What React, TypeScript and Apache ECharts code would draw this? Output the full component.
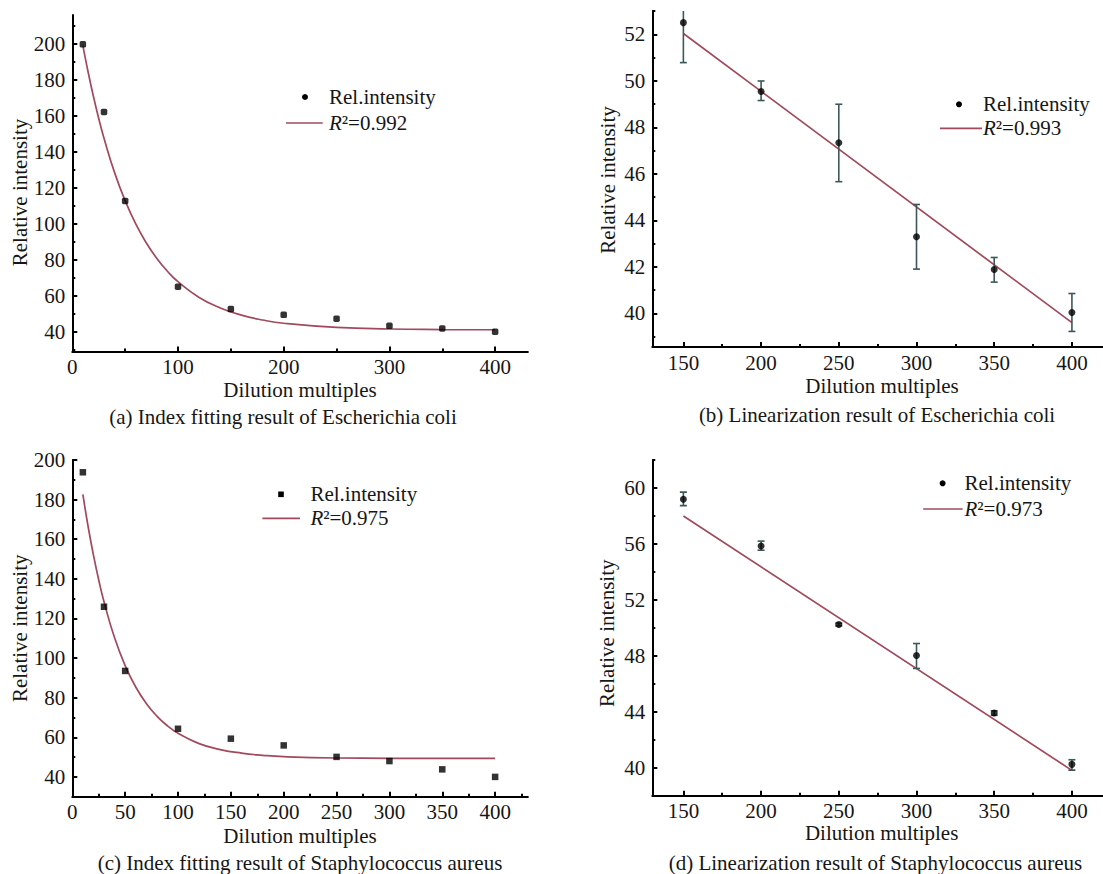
import React, { useEffect, useRef } from "react";
import * as echarts from "echarts";

// ---------- data ----------
const EXP_DILUTIONS = [10, 30, 50, 100, 150, 200, 250, 300, 350, 400];
const ECOLI_INTENSITY = [199.7, 162.1, 112.7, 65.0, 52.6, 49.4, 47.2, 43.3, 41.8, 40.0];
const SAUREUS_INTENSITY = [193.8, 125.9, 93.5, 64.3, 59.3, 55.9, 50.1, 48.0, 43.8, 40.0];

const FIT_DILUTIONS = [10, 15, 20, 25, 30, 40, 50, 60, 70, 80, 90, 100, 120, 140, 160, 180, 200, 250, 300, 350, 400];
const ECOLI_FIT = [199, 184.2, 170.7, 158.5, 147.5, 128.4, 112.8, 99.9, 89.4, 80.7, 73.6, 67.8, 59.0, 53.2, 49.2, 46.5, 44.7, 42.4, 41.5, 41.2, 41.1];
const SAUREUS_FIT = [182.6, 166.3, 152.0, 139.4, 128.4, 110.2, 96.2, 85.4, 77.1, 70.7, 65.8, 62.0, 56.8, 53.8, 52.0, 50.9, 50.2, 49.55, 49.4, 49.3, 49.3];

const LIN_DILUTIONS = [150, 200, 250, 300, 350, 400];
const ECOLI_LIN = [52.5, 49.54, 47.33, 43.29, 41.88, 40.03];
const ECOLI_LIN_LOW = [50.78, 49.15, 45.66, 41.9, 41.34, 39.22];
const ECOLI_LIN_HIGH = [54.22, 49.99, 48.99, 44.68, 42.4, 40.85];
const SAUREUS_LIN = [59.19, 55.85, 50.24, 48.02, 43.91, 40.24];
const SAUREUS_LIN_LOW = [58.74, 55.55, 50.14, 47.1, 43.75, 39.83];
const SAUREUS_LIN_HIGH = [59.7, 56.2, 50.34, 48.88, 44.07, 40.57];

const LIN_FIT_DILUTIONS = [150, 400];
const ECOLI_LIN_FIT = [52.03, 39.6];
const SAUREUS_LIN_FIT = [58.0, 39.81];

const R2_LABELS = ["0.992", "0.993", "0.975", "0.973"];
const CAPTIONS = [
  "(a) Index fitting result of Escherichia coli",
  "(b) Linearization result of Escherichia coli",
  "(c) Index fitting result of Staphylococcus aureus",
  "(d) Linearization result of Staphylococcus aureus",
];
const X_NAME = "Dilution multiples";
const Y_NAME = "Relative intensity";
const POINT_NAME = "Rel.intensity";

// tick label / tick position lists
const A_X_LABELS = [0, 100, 200, 300, 400];
const A_X_MINOR = [50, 150, 250, 350];
const A_Y_LABELS = [40, 60, 80, 100, 120, 140, 160, 180, 200];
const A_Y_MINOR = [30, 50, 70, 90, 110, 130, 150, 170, 190, 210];
const B_X_LABELS = [150, 200, 250, 300, 350, 400];
const B_X_MINOR = [175, 225, 275, 325, 375];
const B_Y_LABELS = [40, 42, 44, 46, 48, 50, 52];
const B_Y_MINOR = [39, 41, 43, 45, 47, 49, 51, 53];
const C_X_LABELS = [0, 50, 100, 150, 200, 250, 300, 350, 400];
const C_X_MINOR = [25, 75, 125, 175, 225, 275, 325, 375, 425];
const C_Y_LABELS = [40, 60, 80, 100, 120, 140, 160, 180, 200];
const C_Y_MINOR = [50, 70, 90, 110, 130, 150, 170, 190];
const D_Y_LABELS = [40, 44, 48, 52, 56, 60];
const D_Y_MINOR = [42, 46, 50, 54, 58, 62];

// ---------- styling ----------
const FONT = "'Liberation Serif', 'DejaVu Serif', serif";
const FS = 21;
const LH = 19;
const TXT = "#161616";
const FIT_COLOR = "#a04a5c";
const ERR_COLOR = "#3c5858";

type Panel = {
  grid: { left: number; top: number; width: number; height: number };
  x: { min: number; max: number; labels: number[]; minor: number[] };
  y: { min: number; max: number; labels: number[]; minor: number[] };
  pts: number[][];
  fit: number[][];
  err?: number[][];
  symbol: string;
  smooth: boolean;
};

const zip = (xs: number[], ys: number[]) => xs.map((x, i) => [x, ys[i]]);

const panels: Panel[] = [
  {
    grid: { left: 72.3, top: 15, width: 455.6, height: 336.5 },
    x: { min: 0, max: 431, labels: A_X_LABELS, minor: A_X_MINOR },
    y: { min: 29, max: 216, labels: A_Y_LABELS, minor: A_Y_MINOR },
    pts: zip(EXP_DILUTIONS, ECOLI_INTENSITY),
    fit: zip(FIT_DILUTIONS, ECOLI_FIT),
    symbol: "roundRect",
    smooth: true,
  },
  {
    grid: { left: 652.3, top: 11, width: 456.75, height: 336 },
    x: { min: 130, max: 420, labels: B_X_LABELS, minor: B_X_MINOR },
    y: { min: 38.55, max: 53, labels: B_Y_LABELS, minor: B_Y_MINOR },
    pts: zip(LIN_DILUTIONS, ECOLI_LIN),
    fit: zip(LIN_FIT_DILUTIONS, ECOLI_LIN_FIT),
    err: LIN_DILUTIONS.map((x, i) => [x, ECOLI_LIN_LOW[i], ECOLI_LIN_HIGH[i]]),
    symbol: "circle",
    smooth: false,
  },
  {
    grid: { left: 72.3, top: 460, width: 455.6, height: 336.7 },
    x: { min: 0, max: 431, labels: C_X_LABELS, minor: C_X_MINOR },
    y: { min: 30, max: 200, labels: C_Y_LABELS, minor: C_Y_MINOR },
    pts: zip(EXP_DILUTIONS, SAUREUS_INTENSITY),
    fit: zip(FIT_DILUTIONS, SAUREUS_FIT),
    symbol: "rect",
    smooth: true,
  },
  {
    grid: { left: 652.3, top: 460, width: 456.75, height: 335.7 },
    x: { min: 130, max: 420, labels: B_X_LABELS, minor: B_X_MINOR },
    y: { min: 38, max: 62, labels: D_Y_LABELS, minor: D_Y_MINOR },
    pts: zip(LIN_DILUTIONS, SAUREUS_LIN),
    fit: zip(LIN_FIT_DILUTIONS, SAUREUS_LIN_FIT),
    err: LIN_DILUTIONS.map((x, i) => [x, SAUREUS_LIN_LOW[i], SAUREUS_LIN_HIGH[i]]),
    symbol: "circle",
    smooth: false,
  },
];

// graphic positions for texts
const LAYOUT = [
  { xName: [300, 390], yName: [20, 192.5], caption: [283, 416.5], marker: [305, 97], text: 329, line: [286, 322.7, 123], r2y: 122.5 },
  { xName: [882, 386], yName: [607.5, 180], caption: [877, 415], marker: [959, 104.3], text: 983, line: [940, 982, 128.3], r2y: 128.3 },
  { xName: [300, 835.5], yName: [19.5, 628.3], caption: [300, 863.3], marker: [281, 494.3], text: 310.4, line: [262.4, 300, 518.3], r2y: 518.3 },
  { xName: [881.6, 833], yName: [607.3, 633.3], caption: [875.4, 863.3], marker: [942.6, 483.3], text: 964.5, line: [923.2, 962.7, 509], r2y: 509 },
];

function axisPair(kind: "x" | "y", gi: number, a: { min: number; max: number; labels: number[]; minor: number[] }) {
  const base = {
    type: "value",
    gridIndex: gi,
    min: a.min,
    max: a.max,
    position: kind === "x" ? "bottom" : "left",
    splitLine: { show: false },
  };
  const main = {
    ...base,
    axisLine: { show: true, onZero: false, lineStyle: { color: "#000", width: 2 } },
    axisTick: { show: true, inside: true, length: 5, customValues: a.labels, lineStyle: { color: "#000", width: 2 } },
    axisLabel: {
      show: true,
      customValues: a.labels,
      margin: kind === "x" ? 6 : 7,
      color: TXT,
      fontSize: FS,
      lineHeight: LH,
      fontFamily: FONT,
    },
  };
  const minor = {
    ...base,
    axisLine: { show: false, onZero: false },
    axisTick: { show: true, inside: true, length: 3, customValues: a.minor, lineStyle: { color: "#000", width: 2 } },
    axisLabel: { show: false },
  };
  return [main, minor];
}

function buildOption() {
  const grids: any[] = [];
  const xAxis: any[] = [];
  const yAxis: any[] = [];
  const series: any[] = [];
  const graphic: any[] = [];

  panels.forEach((p, i) => {
    grids.push({ ...p.grid, containLabel: false });
    xAxis.push(...axisPair("x", i, p.x));
    yAxis.push(...axisPair("y", i, p.y));
    const xi = 2 * i;
    const yi = 2 * i;
    series.push({
      type: "line",
      name: "fit" + i,
      xAxisIndex: xi,
      yAxisIndex: yi,
      data: p.fit,
      showSymbol: false,
      smooth: p.smooth ? true : false,
      lineStyle: { color: FIT_COLOR, width: 1.7 },
      z: 2,
    });
    if (p.err) {
      series.push({
        type: "custom",
        name: "err" + i,
        xAxisIndex: xi,
        yAxisIndex: yi,
        clip: true,
        data: p.err,
        z: 3,
        renderItem: (params: any, api: any) => {
          const x = api.value(0);
          const lo = api.coord([x, api.value(1)]);
          const hi = api.coord([x, api.value(2)]);
          const cw = 3.5;
          const st = { stroke: ERR_COLOR, lineWidth: 1.6 };
          return {
            type: "group",
            children: [
              { type: "line", shape: { x1: lo[0], y1: lo[1], x2: hi[0], y2: hi[1] }, style: st },
              { type: "line", shape: { x1: lo[0] - cw, y1: lo[1], x2: lo[0] + cw, y2: lo[1] }, style: st },
              { type: "line", shape: { x1: hi[0] - cw, y1: hi[1], x2: hi[0] + cw, y2: hi[1] }, style: st },
            ],
          };
        },
      });
    }
    series.push({
      type: "scatter",
      name: POINT_NAME,
      xAxisIndex: xi,
      yAxisIndex: yi,
      data: p.pts,
      symbol: p.symbol,
      symbolSize: p.symbol === "circle" ? 7 : 6.5,
      itemStyle: { color: "#000" },
      z: 4,
    });

    const L = LAYOUT[i];
    const textStyle = { fontSize: FS, lineHeight: LH, fontFamily: FONT, fill: TXT };
    graphic.push(
      {
        type: "text",
        x: L.xName[0],
        y: L.xName[1],
        style: { ...textStyle, text: X_NAME, align: "center", verticalAlign: "middle" },
      },
      {
        type: "text",
        x: L.yName[0],
        y: L.yName[1],
        rotation: Math.PI / 2,
        style: { ...textStyle, text: Y_NAME, align: "center", verticalAlign: "middle" },
      },
      {
        type: "text",
        x: L.caption[0],
        y: L.caption[1],
        style: { ...textStyle, text: CAPTIONS[i], align: "center", verticalAlign: "middle" },
      },
      p.symbol === "rect"
        ? { type: "rect", shape: { x: L.marker[0] - 2.8, y: L.marker[1] - 2.8, width: 5.6, height: 5.6 }, style: { fill: "#000" } }
        : { type: "circle", shape: { cx: L.marker[0], cy: L.marker[1], r: 3 }, style: { fill: "#000" } },
      {
        type: "text",
        x: L.text,
        y: L.marker[1],
        style: { ...textStyle, text: POINT_NAME, align: "left", verticalAlign: "middle" },
      },
      {
        type: "line",
        shape: { x1: L.line[0], y1: L.line[2], x2: L.line[1], y2: L.line[2] },
        style: { stroke: FIT_COLOR, lineWidth: 1.7 },
      },
      {
        type: "text",
        x: L.text,
        y: L.r2y,
        style: {
          ...textStyle,
          text: "{i|R}{n|²=" + R2_LABELS[i] + "}",
          align: "left",
          verticalAlign: "middle",
          rich: {
            i: { fontStyle: "italic", fontSize: FS, lineHeight: LH, fontFamily: FONT, fill: TXT },
            n: { fontSize: FS, lineHeight: LH, fontFamily: FONT, fill: TXT },
          },
        },
      }
    );
  });

  return {
    animation: false,
    backgroundColor: "#ffffff",
    grid: grids,
    xAxis,
    yAxis,
    series,
    graphic,
  };
}

export default function App() {
  const ref = useRef<HTMLDivElement>(null);
  useEffect(() => {
    if (!ref.current) return;
    const chart = echarts.init(ref.current, undefined, { renderer: "svg" });
    chart.setOption(buildOption() as any);
    return () => chart.dispose();
  }, []);
  return (
    <div
      ref={ref}
      style={{ position: "absolute", left: 0, top: 0, width: 1103, height: 874, background: "#fff" }}
    />
  );
}
